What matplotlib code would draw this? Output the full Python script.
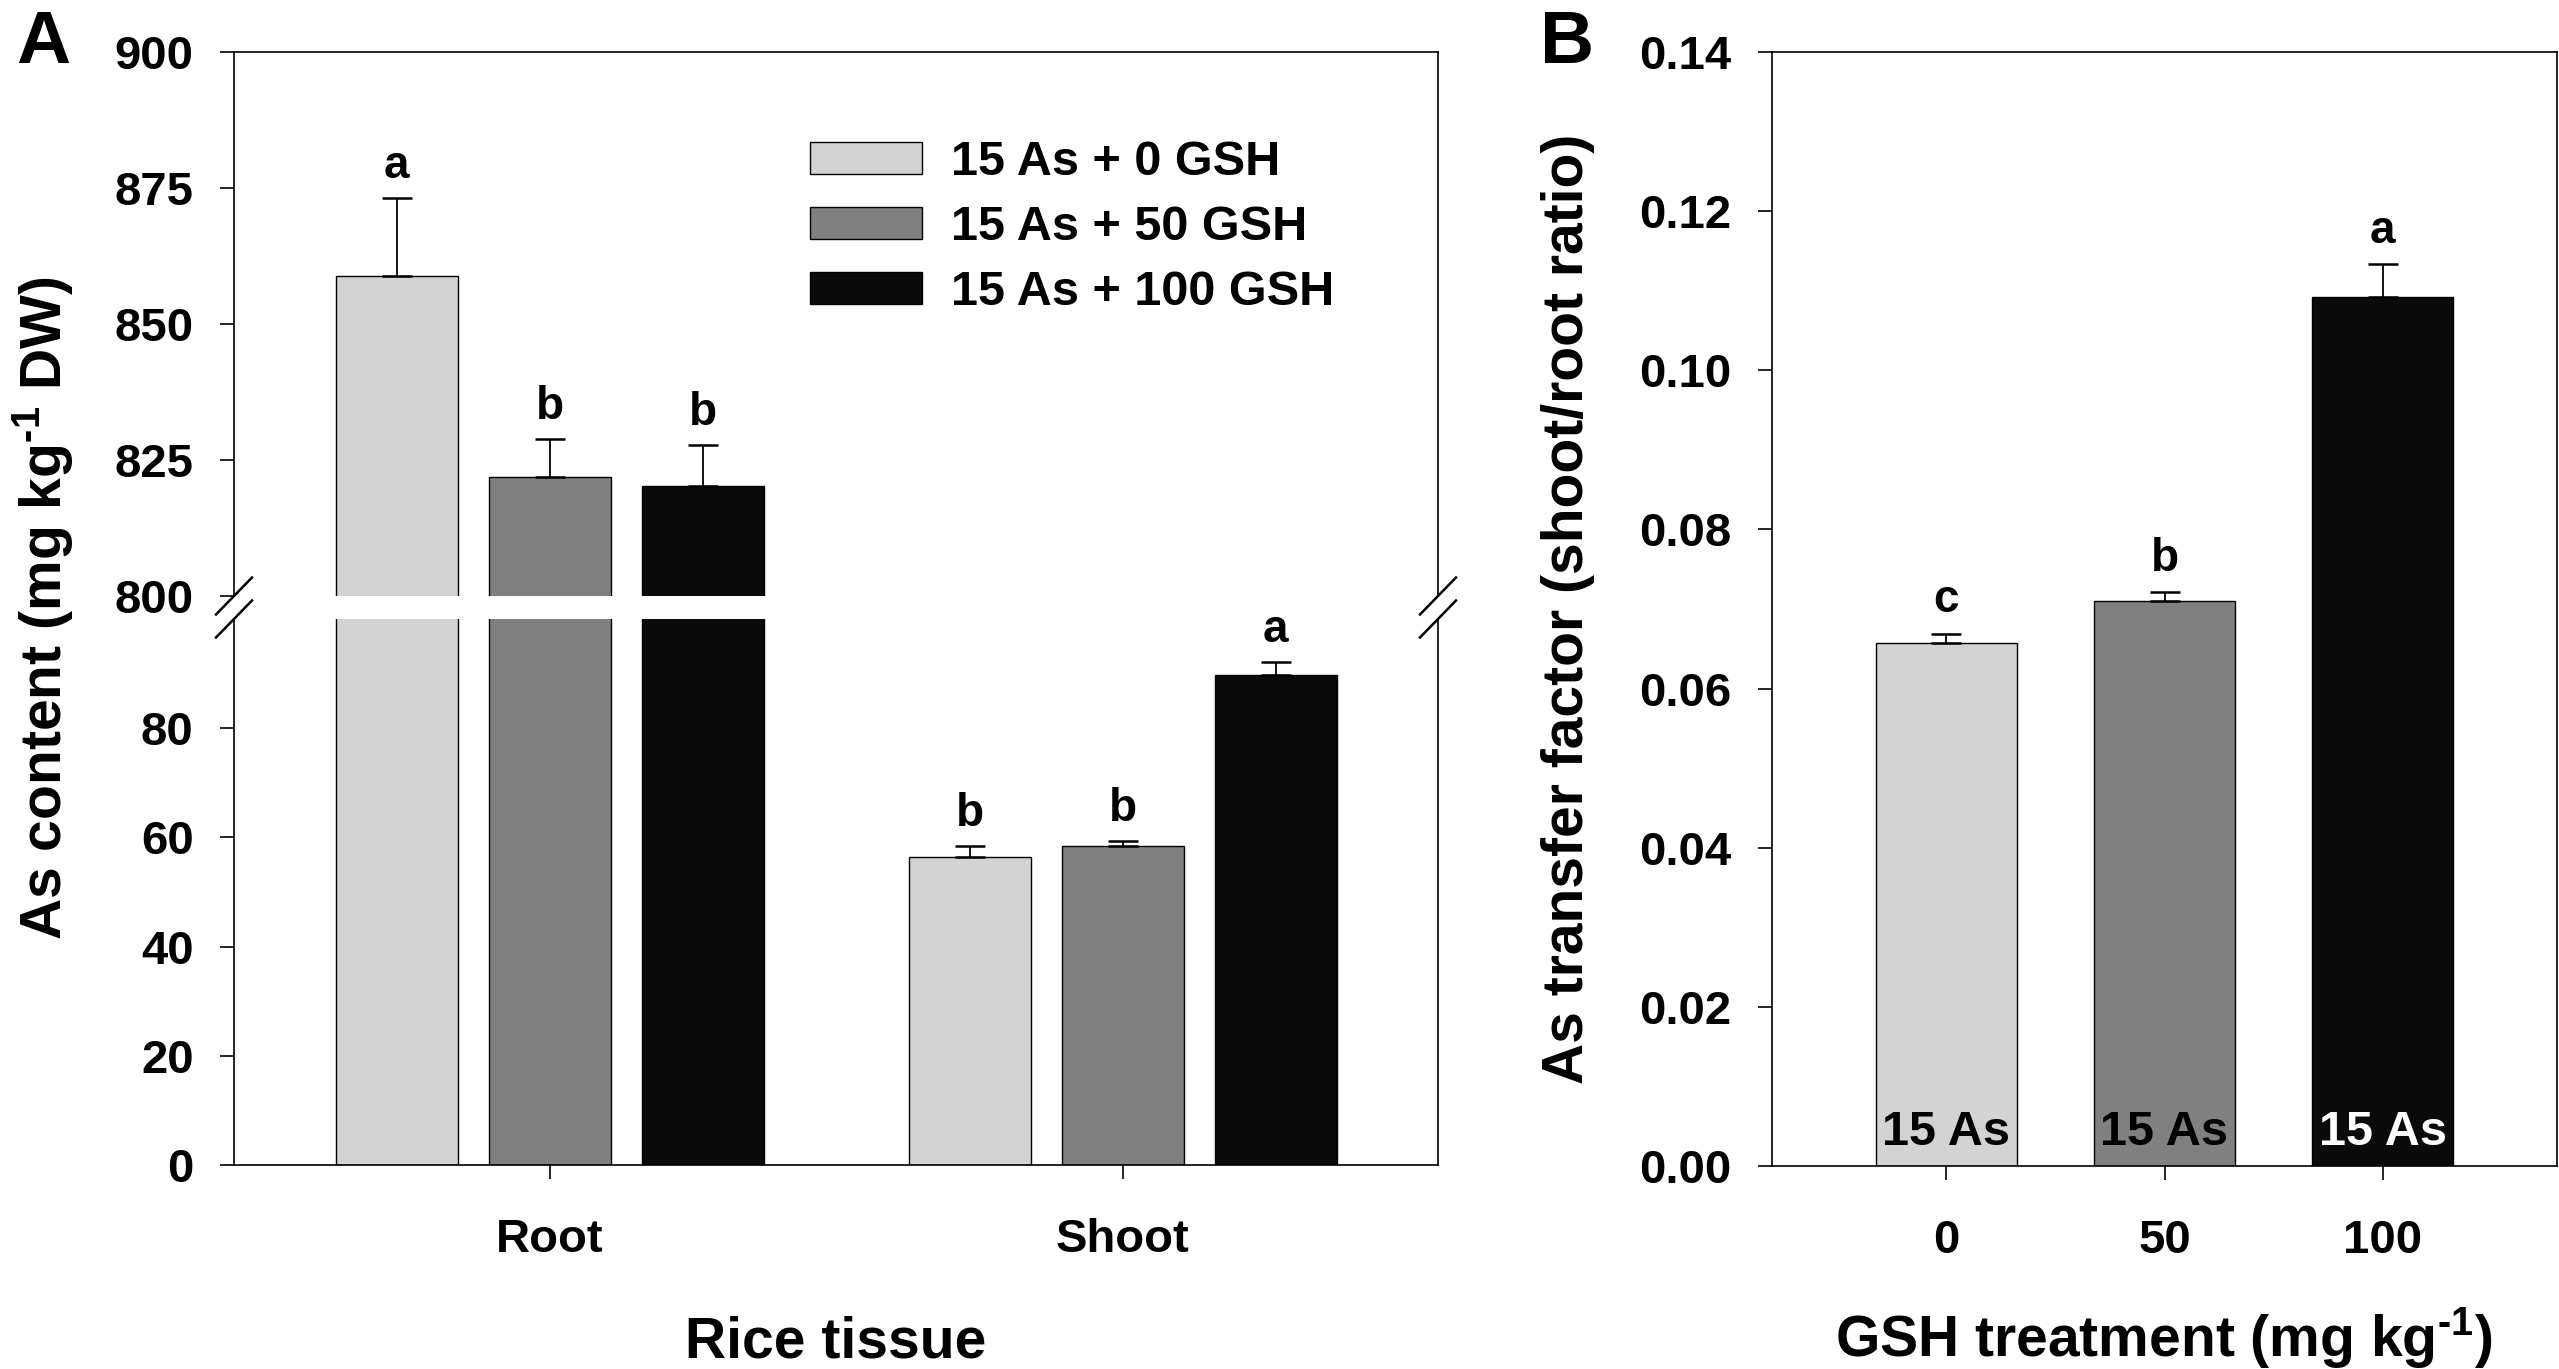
import numpy as np
import matplotlib
matplotlib.use("Agg")
import matplotlib.pyplot as plt

plt.rcParams['font.family'] = ['Liberation Sans', 'DejaVu Sans']
plt.rcParams['font.weight'] = 'bold'
plt.rcParams['mathtext.fontset'] = 'custom'
plt.rcParams['mathtext.rm'] = 'Liberation Sans:bold'
plt.rcParams['mathtext.bf'] = 'Liberation Sans:bold'

# --- data ---
tissues = ['Root', 'Shoot']
treatments = ['15 As + 0 GSH', '15 As + 50 GSH', '15 As + 100 GSH']
root_mean = [858.9, 821.9, 820.3]
root_se = [14.3, 7.0, 7.4]
root_letters = ['a', 'b', 'b']
shoot_mean = [56.5, 58.5, 89.7]
shoot_se = [2.0, 0.9, 2.5]
shoot_letters = ['b', 'b', 'a']

gsh_dose = ['0', '50', '100']
tf_mean = [0.0657, 0.0710, 0.1092]
tf_se = [0.0012, 0.0011, 0.0041]
tf_letters = ['c', 'b', 'a']
bar_text = ['15 As', '15 As', '15 As']

colors = ['#d3d3d3', '#808080', '#0a0a0a']
text_colors = ['black', 'black', 'white']

W, H = 2559, 1369
fig = plt.figure(figsize=(W / 100, H / 100), dpi=100)


def box(l, t, r, b):
    return [l / W, 1 - b / H, (r - l) / W, (b - t) / H]


TICK = 34
LAB = 41
LW = 1.2
SUP = r'$^{\text{-}1}$'

ax_top = fig.add_axes(box(234, 52, 1438, 596))
ax_bot = fig.add_axes(box(234, 619, 1438, 1165))
ax_b = fig.add_axes(box(1772, 52, 2557, 1166))

for ax in (ax_top, ax_bot, ax_b):
    for s in ax.spines.values():
        s.set_linewidth(LW)
    ax.tick_params(direction='out', length=10, width=LW, labelsize=TICK,
                   right=False, top=False)
    ax.tick_params(axis='y', pad=19)
    ax.tick_params(axis='x', pad=28)

# --- panel A: broken axis ---
x = np.arange(len(tissues))
bw = 0.213
step = 0.267
bars_for_legend = []
for ax in (ax_top, ax_bot):
    for i in range(len(treatments)):
        vals = [root_mean[i], shoot_mean[i]]
        errs = [root_se[i], shoot_se[i]]
        xi = x + (i - 1) * step
        b = ax.bar(xi, vals, bw, color=colors[i], edgecolor='black',
                   linewidth=1.0, label=treatments[i], zorder=2)
        ax.errorbar(xi, vals, yerr=[[0, 0], errs], fmt='none', ecolor='black',
                    elinewidth=1.3, capsize=11, capthick=1.8, zorder=3)
        if ax is ax_top:
            bars_for_legend.append(b)
    ax.set_xlim(-0.551, 1.55)

for i in range(len(treatments)):
    xi = x + (i - 1) * step
    ax_top.annotate(root_letters[i], (xi[0], root_mean[i] + root_se[i]),
                    xytext=(0, 23), textcoords='offset points',
                    ha='center', va='center', fontsize=33)
    ax_bot.annotate(shoot_letters[i], (xi[1], shoot_mean[i] + shoot_se[i]),
                    xytext=(0, 23), textcoords='offset points',
                    ha='center', va='center', fontsize=33)

ax_top.set_ylim(800, 900)
ax_top.set_yticks([800, 825, 850, 875, 900])
ax_top.spines['bottom'].set_visible(False)
ax_top.tick_params(axis='x', bottom=False, labelbottom=False)

ax_bot.set_ylim(0, 100)
ax_bot.set_yticks([0, 20, 40, 60, 80])
ax_bot.spines['top'].set_visible(False)
ax_bot.set_xticks(x)
ax_bot.set_xticklabels(tissues)

# break marks
dx = 18 / 1204
for ax, h in ((ax_top, 544), (ax_bot, 546)):
    yb = 0 if ax is ax_top else 1
    dy = 18.5 / h
    for xb in (0, 1):
        ax.plot([xb - dx, xb + dx], [yb - dy, yb + dy], transform=ax.transAxes,
                color='black', lw=1.8, clip_on=False, zorder=5)

ax_top.legend(handles=bars_for_legend, labels=treatments, loc='upper left',
              bbox_to_anchor=(810 / W, 1 - 140 / H), bbox_transform=fig.transFigure,
              frameon=False, fontsize=35, handlelength=2.3, handleheight=0.62,
              handletextpad=0.6, labelspacing=0.41, borderpad=0, borderaxespad=0)

# --- panel B ---
xb_pos = np.arange(len(gsh_dose))
ax_b.bar(xb_pos, tf_mean, 0.647, color=colors, edgecolor='black', linewidth=1.0, zorder=2)
ax_b.errorbar(xb_pos, tf_mean, yerr=[[0, 0, 0], tf_se], fmt='none', ecolor='black',
              elinewidth=1.3, capsize=11, capthick=1.8, zorder=3)
for i in range(len(gsh_dose)):
    ax_b.annotate(tf_letters[i], (xb_pos[i], tf_mean[i] + tf_se[i]),
                  xytext=(0, 24), textcoords='offset points',
                  ha='center', va='center', fontsize=33)
    ax_b.annotate(bar_text[i], (xb_pos[i], 0), xytext=(0, 15),
                  textcoords='offset points', ha='center', va='baseline',
                  fontsize=35, color=text_colors[i], zorder=4)
ax_b.set_xlim(-0.80, 2.80)
ax_b.set_ylim(0, 0.14)
ax_b.set_yticks(np.arange(0, 0.141, 0.02))
ax_b.set_yticklabels(['%.2f' % v for v in np.arange(0, 0.141, 0.02)])
ax_b.set_xticks(xb_pos)
ax_b.set_xticklabels(gsh_dose)

# axis titles and panel letters
fig.text(62 / W, 1 - 608 / H, 'As content (mg kg' + SUP + ' DW)', rotation=90,
         rotation_mode='anchor', ha='center', va='baseline', fontsize=LAB)
fig.text(1583 / W, 1 - 609 / H, 'As transfer factor (shoot/root ratio)', rotation=90,
         rotation_mode='anchor', ha='center', va='baseline', fontsize=LAB)
fig.text(836 / W, 1 - 1357 / H, 'Rice tissue', ha='center', va='baseline', fontsize=LAB)
fig.text(2164 / W, 1 - 1357 / H, 'GSH treatment (mg kg' + SUP + ')', ha='center',
         va='baseline', fontsize=LAB)
fig.text(16 / W, 1 - 63 / H, 'A', ha='left', va='baseline', fontsize=54)
fig.text(1540 / W, 1 - 63 / H, 'B', ha='left', va='baseline', fontsize=54)

fig.savefig('out.png', dpi=100)
